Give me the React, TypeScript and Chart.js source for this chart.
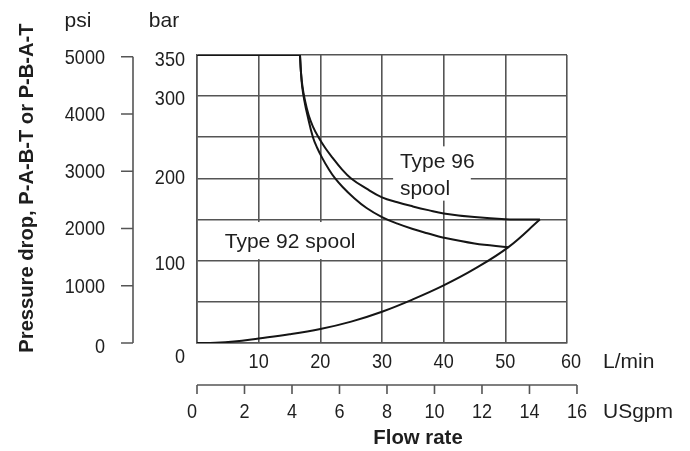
import { useEffect, useRef } from "react";
import { Chart, registerables } from "chart.js";

Chart.register(...registerables);

// ---- data ----
const flowTicks = [10, 20, 30, 40, 50, 60];
const barTicks = [0, 100, 200, 300, 350];
const psiTicks = [0, 1000, 2000, 3000, 4000, 5000];
const gpmTicks = [0, 2, 4, 6, 8, 10, 12, 14, 16];

// flat pressure-limit segment along the top
const limitFlow = [0, 16.7];
const limitBar = [350, 350];

const type96Flow = [16.7, 16.85, 17.1, 17.5, 18.1, 18.8, 19.7, 20.8, 22.0, 23.4, 25.0, 27.5, 30, 32.5, 35, 37.5, 40, 45, 50, 55.6];
const type96Bar = [350, 330, 312, 295, 277, 263, 250, 237, 225, 212, 200, 187.5, 177, 171, 166, 161.5, 157.5, 153, 150.5, 150];

const type92Flow = [16.7, 16.85, 17.05, 17.4, 17.9, 18.8, 19.5, 20.3, 21.3, 22.4, 23.7, 25.2, 27.5, 30, 32.5, 35, 37.5, 40, 45, 50.5];
const type92Bar = [350, 330, 312, 295, 277, 250, 237, 225, 212, 200, 189, 178, 164, 153, 145, 138.5, 133, 128, 121, 116.5];

const returnFlow = [0, 3, 6, 10, 15, 20, 25, 30, 35, 40, 45, 50.5, 55.6];
const returnBar = [0, 0.3, 1.8, 5.5, 10.5, 17, 26, 38, 53, 70, 90, 116.5, 150];

const flowMax = 60;
const barMax = 350;
const psiAtTop = 5030; // psi value at the top of the plot (as drawn)
const gpmAtRight = 15.58; // USgpm value at the right edge of the plot (as drawn)

const FONT = '"Liberation Sans", Arial, "DejaVu Sans", sans-serif';
const TEXT = "#1e1e1e";
const GRID = "#555555";
const CURVE = "#151515";

type TxtOpts = {
  size?: number;
  bold?: boolean;
  align?: CanvasTextAlign;
  baseline?: CanvasTextBaseline;
  hs?: number;
  rot?: number;
};

function txt(ctx: CanvasRenderingContext2D, s: string, x: number, y: number, o: TxtOpts = {}) {
  const { size = 21, bold = false, align = "center", baseline = "middle", hs = 1, rot = 0 } = o;
  ctx.save();
  ctx.translate(x, y);
  if (rot) ctx.rotate(rot);
  ctx.scale(hs, 1);
  ctx.font = `${bold ? "bold " : ""}${size}px ${FONT}`;
  ctx.textAlign = align;
  ctx.textBaseline = baseline;
  ctx.fillStyle = TEXT;
  ctx.fillText(s, 0, 0);
  ctx.restore();
}

const pts = (xs: number[], ys: number[]) => xs.map((x, i) => ({ x, y: ys[i] }));

const DIGIT_HS = 0.86;

const annotationPlugin = {
  id: "annotations",
  beforeDatasetsDraw(chart: any) {
    const ctx: CanvasRenderingContext2D = chart.ctx;
    const x = chart.scales.x;
    const y = chart.scales.y;
    ctx.save();
    ctx.fillStyle = "#ffffff";
    // Type 92 label box
    let x0 = x.getPixelForValue(3.4), x1 = x.getPixelForValue(26.8);
    let y0 = y.getPixelForValue(147), y1 = y.getPixelForValue(102);
    ctx.fillRect(x0, y0, x1 - x0, y1 - y0);
    // Type 96 label box
    x0 = x.getPixelForValue(31.8); x1 = x.getPixelForValue(44.4);
    y0 = y.getPixelForValue(239); y1 = y.getPixelForValue(173);
    ctx.fillRect(x0, y0, x1 - x0, y1 - y0);
    ctx.restore();

    txt(ctx, "Type 92 spool", x.getPixelForValue(4.5), y.getPixelForValue(115), {
      align: "left", baseline: "alphabetic", size: 21,
    });
    txt(ctx, "Type 96", x.getPixelForValue(32.9), y.getPixelForValue(212.5), {
      align: "left", baseline: "alphabetic", size: 21,
    });
    txt(ctx, "spool", x.getPixelForValue(32.9), y.getPixelForValue(180), {
      align: "left", baseline: "alphabetic", size: 21,
    });
  },
  afterDraw(chart: any) {
    const ctx: CanvasRenderingContext2D = chart.ctx;
    const area = chart.chartArea;
    const x = chart.scales.x;
    const y = chart.scales.y;
    const psi = chart.scales.psi;
    const gpm = chart.scales.gpm;

    // unit headers
    txt(ctx, "psi", area.left - 119, 27, { baseline: "alphabetic" });
    txt(ctx, "bar", area.left - 33, 27, { baseline: "alphabetic" });

    // bar tick labels
    const barNudge: Record<number, number> = { 350: 5, 300: 3, 200: 0, 100: 3, 0: 14 };
    barTicks.forEach((v) => {
      txt(ctx, String(v), area.left - 12, y.getPixelForValue(v) + (barNudge[v] ?? 2), {
        align: "right", hs: DIGIT_HS,
      });
    });

    // psi axis
    const axX = area.left - 64;
    ctx.save();
    ctx.strokeStyle = GRID;
    ctx.lineWidth = 1.6;
    ctx.beginPath();
    ctx.moveTo(axX, psi.getPixelForValue(psiTicks[psiTicks.length - 1]));
    ctx.lineTo(axX, psi.getPixelForValue(0));
    psiTicks.forEach((v) => {
      const py = psi.getPixelForValue(v);
      ctx.moveTo(axX - 12, py);
      ctx.lineTo(axX, py);
    });
    ctx.stroke();
    ctx.restore();
    psiTicks.forEach((v) => {
      txt(ctx, String(v), area.left - 92, psi.getPixelForValue(v) + (v === 0 ? 4 : 1), {
        align: "right", hs: DIGIT_HS,
      });
    });

    // flow (L/min) tick labels
    flowTicks.forEach((v) => {
      txt(ctx, String(v), x.getPixelForValue(v) + (v === 60 ? 4 : 0), area.bottom + 19, { hs: DIGIT_HS });
    });
    txt(ctx, "L/min", area.right + 36, area.bottom + 19, { align: "left" });

    // USgpm axis
    const gy = area.bottom + 42;
    ctx.save();
    ctx.strokeStyle = GRID;
    ctx.lineWidth = 1.6;
    ctx.beginPath();
    ctx.moveTo(gpm.getPixelForValue(0), gy);
    ctx.lineTo(gpm.getPixelForValue(gpmTicks[gpmTicks.length - 1]), gy);
    gpmTicks.forEach((v) => {
      const px = gpm.getPixelForValue(v);
      ctx.moveTo(px, gy);
      ctx.lineTo(px, gy + 9);
    });
    ctx.stroke();
    ctx.restore();
    gpmTicks.forEach((v) => {
      txt(ctx, String(v), gpm.getPixelForValue(v) + (v === 0 ? -5 : 0), gy + 27, { hs: DIGIT_HS });
    });
    txt(ctx, "USgpm", area.right + 36, gy + 27, { align: "left" });

    // axis titles
    txt(ctx, "Flow rate", 418, 444, { bold: true, baseline: "alphabetic", hs: 0.97 });
    txt(ctx, "Pressure drop, P-A-B-T or P-B-A-T", 33, 188, {
      bold: true, baseline: "alphabetic", rot: -Math.PI / 2, hs: 0.96,
    });
  },
};

export default function App() {
  const ref = useRef<HTMLCanvasElement>(null);

  useEffect(() => {
    if (!ref.current) return;
    const lineDs = (label: string, data: { x: number; y: number }[]) => ({
      label,
      data,
      borderColor: CURVE,
      borderWidth: 2,
      pointRadius: 0,
      fill: false,
      tension: 0.4,
    });
    const chart = new Chart(ref.current, {
      type: "line",
      data: {
        datasets: [
          { ...lineDs("Pressure limit", pts(limitFlow, limitBar)), tension: 0 },
          lineDs("Type 96 spool", pts(type96Flow, type96Bar)),
          lineDs("Type 92 spool", pts(type92Flow, type92Bar)),
          lineDs("Return", pts(returnFlow, returnBar)),
        ],
      },
      options: {
        animation: false,
        responsive: false,
        maintainAspectRatio: false,
        layout: { padding: { left: 197, right: 123, top: 55, bottom: 108 } },
        plugins: {
          legend: { display: false },
          tooltip: { enabled: false },
        },
        scales: {
          x: {
            type: "linear",
            position: "bottom",
            min: 0,
            max: flowMax,
            ticks: { display: false, stepSize: 10 },
            grid: { color: GRID, lineWidth: 1.6, drawTicks: false },
            border: { display: true, color: GRID, width: 1.6 },
          },
          y: {
            type: "linear",
            position: "left",
            min: 0,
            max: barMax,
            ticks: { display: false, stepSize: 50 },
            grid: { color: GRID, lineWidth: 1.6, drawTicks: false },
            border: { display: true, color: GRID, width: 1.6 },
          },
          gpm: {
            type: "linear",
            position: "bottom",
            display: false,
            min: 0,
            max: gpmAtRight,
          },
          psi: {
            type: "linear",
            position: "left",
            display: false,
            min: 0,
            max: psiAtTop,
          },
        },
      } as any,
      plugins: [annotationPlugin],
    });
    return () => chart.destroy();
  }, []);

  return (
    <div style={{ position: "fixed", left: 0, top: 0, width: 690, height: 451, background: "#fff" }}>
      <canvas ref={ref} width={690} height={451} style={{ display: "block", width: 690, height: 451 }} />
    </div>
  );
}
